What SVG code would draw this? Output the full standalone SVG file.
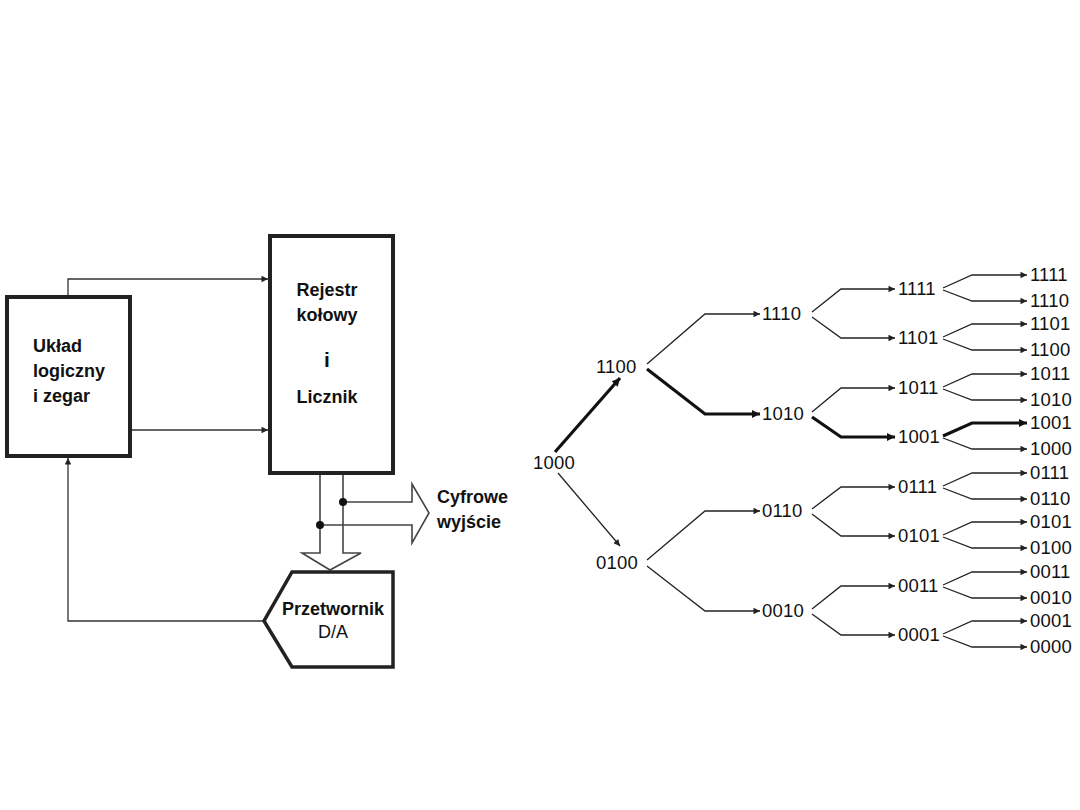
<svg xmlns="http://www.w3.org/2000/svg" width="1080" height="810" viewBox="0 0 1080 810">
<defs>
<style>
.box{fill:#fff;stroke:#222;stroke-width:4}
.lbl{font-family:"Liberation Sans",Arial,sans-serif;font-weight:bold;font-size:18px;fill:#111}
.reg{font-family:"Liberation Sans",Arial,sans-serif;font-size:18px;fill:#111}
.num{font-family:"Liberation Sans",Arial,sans-serif;font-size:18.5px;fill:#111;letter-spacing:0.2px}
.ln{fill:none;stroke:#333;stroke-width:1.3}
.bus{fill:none;stroke:#444;stroke-width:1.6}
.t{fill:none;stroke:#222;stroke-width:1.3}
.k{fill:none;stroke:#111;stroke-width:3.2}
</style>
<marker id="ah" viewBox="0 0 10 10" refX="10" refY="5" markerWidth="10" markerHeight="6.5" markerUnits="userSpaceOnUse" orient="auto"><path d="M0,0 L10,5 L0,10 z" fill="#222"/></marker>
<marker id="ahk" viewBox="0 0 10 10" refX="10" refY="5" markerWidth="11" markerHeight="8" markerUnits="userSpaceOnUse" orient="auto"><path d="M0,0 L10,5 L0,10 z" fill="#111"/></marker>
</defs>
<rect width="1080" height="810" fill="#fff"/>

<g id="connectors">
<path class="ln" d="M68,295 V279 H268" marker-end="url(#ah)"/>
<path class="ln" d="M132,430 H268" marker-end="url(#ah)"/>
<path class="ln" d="M264,621 H68 V458" marker-end="url(#ah)"/>
<path class="bus" d="M320,473 V553 H302 L330,570 L361,553 H343 V473"/>
<path class="bus" d="M343,502 H412 V484 L429,513 L412,543 V525 H320"/>
<circle cx="343" cy="502" r="4" fill="#111"/>
<circle cx="320" cy="525" r="4" fill="#111"/>

<path class="k" d="M555,452 L620,378" marker-end="url(#ahk)"/>
<path class="t" d="M558,473 L620,546" marker-end="url(#ah)"/>

<path class="t" d="M647,364 L705,314 H760" marker-end="url(#ah)"/>
<path class="k" d="M647,369 L705,414 H760" marker-end="url(#ahk)"/>
<path class="t" d="M647,560 L705,511 H760" marker-end="url(#ah)"/>
<path class="t" d="M647,566 L705,611 H760" marker-end="url(#ah)"/>

<path class="t" d="M812,312 L841,289 H895" marker-end="url(#ah)"/>
<path class="t" d="M812,317 L841,338 H895" marker-end="url(#ah)"/>
<path class="t" d="M812,412 L841,388 H895" marker-end="url(#ah)"/>
<path class="k" d="M812,417 L841,437 H895" marker-end="url(#ahk)"/>
<path class="t" d="M812,509 L841,487 H895" marker-end="url(#ah)"/>
<path class="t" d="M812,514 L841,536 H895" marker-end="url(#ah)"/>
<path class="t" d="M812,609 L841,586 H895" marker-end="url(#ah)"/>
<path class="t" d="M812,614 L841,635 H895" marker-end="url(#ah)"/>

<path class="t" d="M943,288 L972,275 H1027" marker-end="url(#ah)"/>
<path class="t" d="M943,290 L972,301 H1027" marker-end="url(#ah)"/>
<path class="t" d="M943,337 L972,324 H1027" marker-end="url(#ah)"/>
<path class="t" d="M943,339 L972,350 H1027" marker-end="url(#ah)"/>
<path class="t" d="M943,387 L972,374 H1027" marker-end="url(#ah)"/>
<path class="t" d="M943,389 L972,400 H1027" marker-end="url(#ah)"/>
<path class="k" d="M943,436 L972,423 H1027" marker-end="url(#ahk)"/>
<path class="t" d="M943,438 L972,449 H1027" marker-end="url(#ah)"/>
<path class="t" d="M943,486 L972,473 H1027" marker-end="url(#ah)"/>
<path class="t" d="M943,488 L972,499 H1027" marker-end="url(#ah)"/>
<path class="t" d="M943,535 L972,522 H1027" marker-end="url(#ah)"/>
<path class="t" d="M943,537 L972,548 H1027" marker-end="url(#ah)"/>
<path class="t" d="M943,585 L972,572 H1027" marker-end="url(#ah)"/>
<path class="t" d="M943,587 L972,598 H1027" marker-end="url(#ah)"/>
<path class="t" d="M943,634 L972,621 H1027" marker-end="url(#ah)"/>
<path class="t" d="M943,636 L972,647 H1027" marker-end="url(#ah)"/>
</g>

<g id="uklad">
<rect class="box" x="7" y="297" width="123" height="159"/>
<text class="lbl" x="33" y="352">Układ</text>
<text class="lbl" x="33" y="377">logiczny</text>
<text class="lbl" x="33" y="402">i zegar</text>
</g>

<g id="rejestr">
<rect class="box" x="270" y="236" width="123" height="237"/>
<text class="lbl" x="327" y="296" text-anchor="middle">Rejestr</text>
<text class="lbl" x="327" y="321" text-anchor="middle">kołowy</text>
<text class="lbl" x="327" y="367" text-anchor="middle" style="font-size:21px">i</text>
<text class="lbl" x="327" y="403" text-anchor="middle">Licznik</text>
</g>

<g id="przetwornik">
<polygon points="292,572 393,572 393,667 292,667 264,621" fill="#fff" stroke="#222" stroke-width="3.5"/>
<text class="lbl" x="333" y="615" text-anchor="middle">Przetwornik</text>
<text class="reg" x="333" y="638" text-anchor="middle">D/A</text>
</g>

<g id="wyjscie">
<text class="lbl" x="437" y="503">Cyfrowe</text>
<text class="lbl" x="437" y="528">wyjście</text>
</g>

<g id="tree-nodes">
<g id="n1000"><text class="num" x="533" y="469">1000</text></g>
<g id="n1100"><text class="num" x="596" y="373">1100</text></g>
<g id="n0100"><text class="num" x="596" y="569">0100</text></g>
<g id="n2"><text class="num" x="762" y="320">1110</text>
<text class="num" x="762" y="420">1010</text>
<text class="num" x="762" y="517">0110</text>
<text class="num" x="762" y="617">0010</text></g>
<g id="n3"><text class="num" x="898" y="295">1111</text>
<text class="num" x="898" y="344">1101</text>
<text class="num" x="898" y="394">1011</text>
<text class="num" x="898" y="443">1001</text>
<text class="num" x="898" y="493">0111</text>
<text class="num" x="898" y="542">0101</text>
<text class="num" x="898" y="592">0011</text>
<text class="num" x="898" y="641">0001</text></g>
<g id="n4"><text class="num" x="1030" y="281">1111</text>
<text class="num" x="1030" y="307">1110</text>
<text class="num" x="1030" y="330">1101</text>
<text class="num" x="1030" y="356">1100</text>
<text class="num" x="1030" y="380">1011</text>
<text class="num" x="1030" y="406">1010</text>
<text class="num" x="1030" y="429">1001</text>
<text class="num" x="1030" y="455">1000</text>
<text class="num" x="1030" y="479">0111</text>
<text class="num" x="1030" y="505">0110</text>
<text class="num" x="1030" y="528">0101</text>
<text class="num" x="1030" y="554">0100</text>
<text class="num" x="1030" y="578">0011</text>
<text class="num" x="1030" y="604">0010</text>
<text class="num" x="1030" y="627">0001</text>
<text class="num" x="1030" y="653">0000</text></g>
</g>
</svg>
